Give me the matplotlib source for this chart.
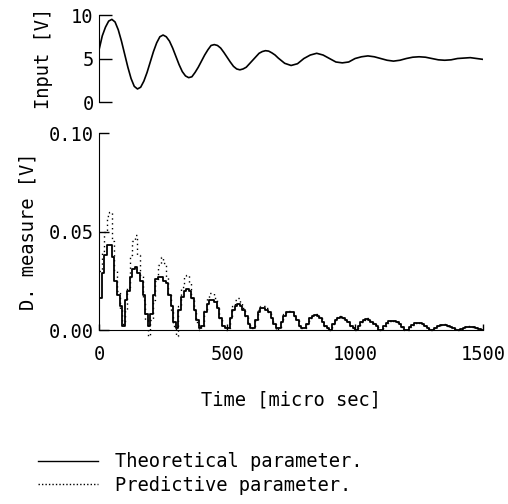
import numpy as np
import matplotlib
matplotlib.use('Agg')
import matplotlib.pyplot as plt

plt.rcParams['font.family'] = ['DejaVu Sans Mono']

# input signal: read every 12.5 micro sec up to 700, then every 25
t_input = np.concatenate([np.arange(0, 700, 12.5), np.arange(700, 1501, 25)])
v_input = [6.0, 7.6, 8.6, 9.3,
           9.5, 9.2, 8.3, 7.0, 5.5, 4.0, 2.7, 1.8,
           1.5, 1.7, 2.4, 3.4, 4.6, 5.8, 6.8, 7.5,
           7.7, 7.5, 7.0, 6.2, 5.25, 4.3, 3.5, 3.0,
           2.8, 2.9, 3.4, 4.0, 4.7, 5.4, 6.0, 6.5,
           6.6, 6.5, 6.2, 5.7, 5.15, 4.6, 4.1, 3.8,
           3.7, 3.8, 4.0, 4.4, 4.8, 5.2, 5.6, 5.8,
           5.9, 5.85, 5.65, 5.4,
           5.05, 4.45, 4.2, 4.4, 5.0, 5.4, 5.6, 5.4, 5.0, 4.6,
           4.5, 4.6, 5.0, 5.2, 5.3, 5.2, 5.0, 4.8, 4.7, 4.8,
           5.0, 5.15, 5.2, 5.15, 5.0, 4.85, 4.8, 4.85, 5.0, 5.05,
           5.1, 5.0, 4.9]

# distance measure, one step every 10 micro sec
t_step = np.arange(0, 1501, 10)
d_theory = [0.016, 0.029, 0.038, 0.043, 0.043, 0.037, 0.025, 0.018, 0.012, 0.002,
            0.015, 0.020, 0.027, 0.031, 0.032, 0.029, 0.025, 0.018, 0.008, 0.002,
            0.008, 0.018, 0.026, 0.027, 0.027, 0.025, 0.024, 0.018, 0.012, 0.004,
            0.001, 0.010, 0.017, 0.020, 0.021, 0.020, 0.016, 0.010, 0.005, 0.001,
            0.002, 0.009, 0.013, 0.015, 0.015, 0.014, 0.011, 0.006, 0.002, 0.001,
            0.001, 0.006, 0.010, 0.012, 0.013, 0.012, 0.010, 0.007, 0.003, 0.001,
            0.001, 0.005, 0.009, 0.011, 0.011, 0.010, 0.009, 0.006, 0.003, 0.001,
            0.001, 0.004, 0.007, 0.009, 0.009, 0.009, 0.007, 0.005, 0.002, 0.001,
            0.001, 0.003, 0.006, 0.007, 0.0075, 0.007, 0.006, 0.004, 0.002, 0.001,
            0.000, 0.003, 0.005, 0.006, 0.0065, 0.006, 0.005, 0.004, 0.002, 0.001,
            0.000, 0.002, 0.004, 0.005, 0.0055, 0.005, 0.004, 0.003, 0.002, 0.000,
            0.000, 0.002, 0.0035, 0.0045, 0.0045, 0.0045, 0.004, 0.003, 0.0015, 0.000,
            0.000, 0.0015, 0.0025, 0.0035, 0.0035, 0.0035, 0.003, 0.002, 0.001, 0.000,
            0.000, 0.001, 0.002, 0.0025, 0.0025, 0.0025, 0.002, 0.0015, 0.001, 0.000,
            0.000, 0.0005, 0.001, 0.0015, 0.0015, 0.0015, 0.0015, 0.001, 0.0005, 0.000,
            0.000]
d_predict = [0.030, 0.040, 0.050, 0.058, 0.060, 0.045, 0.030, 0.020, 0.010, 0.003,
             0.010, 0.022, 0.038, 0.045, 0.048, 0.038, 0.028, 0.015, 0.005, -0.003,
             0.005, 0.015, 0.025, 0.033, 0.037, 0.034, 0.027, 0.018, 0.010, 0.002,
             -0.003, 0.012, 0.022, 0.027, 0.028, 0.024, 0.016, 0.010, 0.004, 0.000,
             0.002, 0.010, 0.016, 0.019, 0.019, 0.016, 0.012, 0.006, 0.002, 0.000,
             0.001, 0.006, 0.012, 0.015, 0.016, 0.014, 0.011, 0.007, 0.003, 0.001,
             0.001, 0.005, 0.010, 0.012, 0.012, 0.011, 0.009, 0.006, 0.003, 0.000,
             0.001, 0.004, 0.008, 0.0095, 0.0095, 0.009, 0.007, 0.005, 0.002, 0.001,
             0.001, 0.003, 0.006, 0.0075, 0.008, 0.007, 0.006, 0.004, 0.002, 0.001,
             0.000, 0.003, 0.005, 0.0065, 0.007, 0.006, 0.005, 0.004, 0.002, 0.001,
             0.000, 0.002, 0.004, 0.005, 0.006, 0.005, 0.004, 0.003, 0.002, 0.000,
             0.000, 0.002, 0.0035, 0.0045, 0.005, 0.0045, 0.004, 0.003, 0.0015, 0.000,
             0.000, 0.0015, 0.0025, 0.0035, 0.004, 0.0035, 0.003, 0.002, 0.001, 0.000,
             0.000, 0.001, 0.002, 0.0025, 0.003, 0.0025, 0.002, 0.0015, 0.001, 0.000,
             0.000, 0.0005, 0.001, 0.0015, 0.002, 0.0015, 0.0015, 0.001, 0.0005, 0.000,
             0.000]

fs = 13.5
fig = plt.figure(figsize=(5.08, 5.04), dpi=100)

# top: input voltage
ax1 = fig.add_axes([0.195, 0.7976, 0.756, 0.1726])
ax1.plot(t_input, v_input, color='black', linewidth=1.2)
ax1.set_xlim(0, 1500)
ax1.set_ylim(0, 10)
for s in ['top', 'right', 'bottom']:
    ax1.spines[s].set_visible(False)
ax1.set_xticks([])
ax1.set_yticks([0, 5, 10])
ax1.tick_params(axis='y', direction='in', length=9, width=1, pad=4, labelsize=fs)
ax1.set_ylabel('Input [V]', fontsize=fs, labelpad=13)

# bottom: distance measure
ax2 = fig.add_axes([0.195, 0.3452, 0.756, 0.3909])
ax2.plot(t_step, d_predict, color='black', linewidth=1.0,
         linestyle=(0, (1, 2.5)), drawstyle='steps-post', clip_on=False)
ax2.plot(t_step, d_theory, color='black', linewidth=1.3, drawstyle='steps-post')
ax2.set_xlim(0, 1500)
ax2.set_ylim(0, 0.10)
for s in ['top', 'right']:
    ax2.spines[s].set_visible(False)
ax2.set_xticks([0, 500, 1000, 1500])
ax2.set_yticks([0.0, 0.05, 0.10])
ax2.set_yticklabels(['0.00', '0.05', '0.10'])
ax2.tick_params(axis='y', direction='in', length=7, width=1, pad=4, labelsize=fs)
ax2.tick_params(axis='x', direction='in', length=4, width=1, pad=11, labelsize=fs)
ax2.set_ylabel('D. measure [V]', fontsize=fs, labelpad=8)
ax2.set_xlabel('Time [micro sec]', fontsize=fs, labelpad=19)

# legend below the chart
h1 = plt.Line2D([], [], color='black', linewidth=1.0)
h2 = plt.Line2D([], [], color='black', linewidth=1.0, linestyle=(0, (1, 1.5)))
fig.legend([h1, h2], ['Theoretical parameter.', 'Predictive parameter.'],
           loc='upper left', bbox_to_anchor=(0.075, 0.103), frameon=False,
           fontsize=fs, handlelength=3.2, handletextpad=0.9, labelspacing=0.25,
           borderaxespad=0, borderpad=0)

plt.savefig('out.png', dpi=100)
